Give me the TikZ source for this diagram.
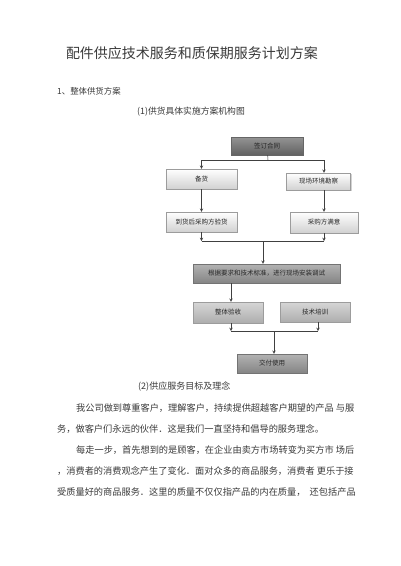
\documentclass[tikz,border=0pt]{standalone}
\usepackage{fontspec}
\newfontfamily\cjk{Noto Sans CJK SC}
\usetikzlibrary{shadows}

\definecolor{inkgray}{HTML}{3A3A3A}
\definecolor{boxline}{HTML}{9C9C9C}
\definecolor{arrowgray}{HTML}{404040}

\tikzset{
  box/.style={draw=boxline, line width=0.4pt, inner sep=1pt,
    font=\cjk\fontsize{6.5}{7.5}\selectfont, text=black!85,
    drop shadow={shadow xshift=1.2pt, shadow yshift=-1.2pt, opacity=0.35}},
  darkbox/.style={box, top color=black!42, bottom color=black!62, draw=black!60},
  lightbox/.style={box, top color=white, bottom color=black!18},
  midbox/.style={box, top color=black!30, bottom color=black!48, draw=black!55},
  palebox/.style={box, top color=black!16, bottom color=black!32},
  flow/.style={->, >=stealth, arrowgray, line width=0.5pt},
  plainline/.style={arrowgray, line width=0.5pt},
  bodytext/.style={anchor=west, inner sep=0pt, text=inkgray,
    font=\cjk\fontsize{9.2}{11}\selectfont}
}

\begin{document}
\begin{tikzpicture}[x=1pt, y=-1pt]
    \useasboundingbox [fill=white] (0,0) rectangle (400,566);

    % heading lines
    \node (title) at (192,53) [inner sep=0pt, text=inkgray,
      font=\cjk\fontsize{14}{16}\selectfont] {配件供应技术服务和质保期服务计划方案};
    \node (sec1) at (57,91) [anchor=west, inner sep=0pt, text=inkgray,
      font=\cjk\fontsize{8.4}{10}\selectfont] {1、整体供货方案};
    \node (cap1) at (137,112) [anchor=west, inner sep=0pt, text=inkgray,
      font=\cjk\fontsize{8.8}{10}\selectfont] {(1)供货具体实施方案机构图};

    % flow chart boxes
    \node (contract) at (267,146) [darkbox, minimum width=72pt, minimum height=18pt] {签订合同};
    \node (stock)    at (201.5,179) [lightbox, minimum width=71pt, minimum height=20pt] {备货};
    \node (survey)   at (318.5,181.5) [lightbox, minimum width=64pt, minimum height=17pt] {现场环境勘察};
    \node (inspect)  at (201.5,222) [lightbox, minimum width=71pt, minimum height=20pt] {到货后采购方验货};
    \node (satisfy)  at (324,222.5) [lightbox, minimum width=68pt, minimum height=21pt] {采购方满意};
    \node (install)  at (266.5,273.5) [midbox, minimum width=147pt, minimum height=19pt] {根据要求和技术标准，进行现场安装调试};
    \node (accept)   at (228,312.5) [palebox, minimum width=70pt, minimum height=21pt] {整体验收};
    \node (train)    at (315,312) [palebox, minimum width=70pt, minimum height=20pt] {技术培训};
    \node (deliver)  at (272,363.5) [midbox, minimum width=70pt, minimum height=19pt] {交付使用};

    % connectors
    \coordinate (fork) at (268,160);
    \coordinate (join1) at (263,241);
    \coordinate (join2) at (274,331);
    \draw [plainline] (contract) -- (fork);
    \draw [flow] (fork) -| (stock.north);
    \draw [flow] (fork) -| (satisfy.north |- survey.north);
    \draw [flow] (stock) -- (inspect);
    \draw [flow] (satisfy.north |- survey.south) -- (satisfy.north);
    \draw [flow] (inspect.south) -- (inspect.south |- join1);
    \draw [flow] (satisfy.south) -- (satisfy.south |- join1);
    \draw [plainline] (inspect.south |- join1) -- (satisfy.south |- join1);
    \draw [flow] (join1) -- (join1 |- install.north);
    \draw [flow] (install.south -| 231,0) -- (accept.north -| 231,0);
    \draw [flow] (accept.south -| 231,0) -- (join2 -| 231,0);
    \draw [flow] (train.south -| 318,0) -- (join2 -| 318,0);
    \draw [plainline] (join2 -| 231,0) -- (join2 -| 318,0);
    \draw [flow] (join2) -- (join2 |- deliver.north);

    % body text
    \node (cap2) at (138,387) [bodytext, font=\cjk\fontsize{9}{11}\selectfont] {(2)供应服务目标及理念};
    \node (para1) at (76,408) [bodytext] {我公司做到尊重客户，理解客户，持续提供超越客户期望的产品 与服};
    \node (para2) at (57,429) [bodytext] {务，做客户们永远的伙伴．这是我们一直坚持和倡导的服务理念。};
    \node (para3) at (76,450) [bodytext] {每走一步，首先想到的是顾客，在企业由卖方市场转变为买方市 场后};
    \node (para4) at (57,471) [bodytext] {，消费者的消费观念产生了变化．面对众多的商品服务，消费者 更乐于接};
    \node (para5) at (57,492) [bodytext] {受质量好的商品服务．这里的质量不仅仅指产品的内在质量，\ \ 还包括产品};
\end{tikzpicture}
\end{document}
